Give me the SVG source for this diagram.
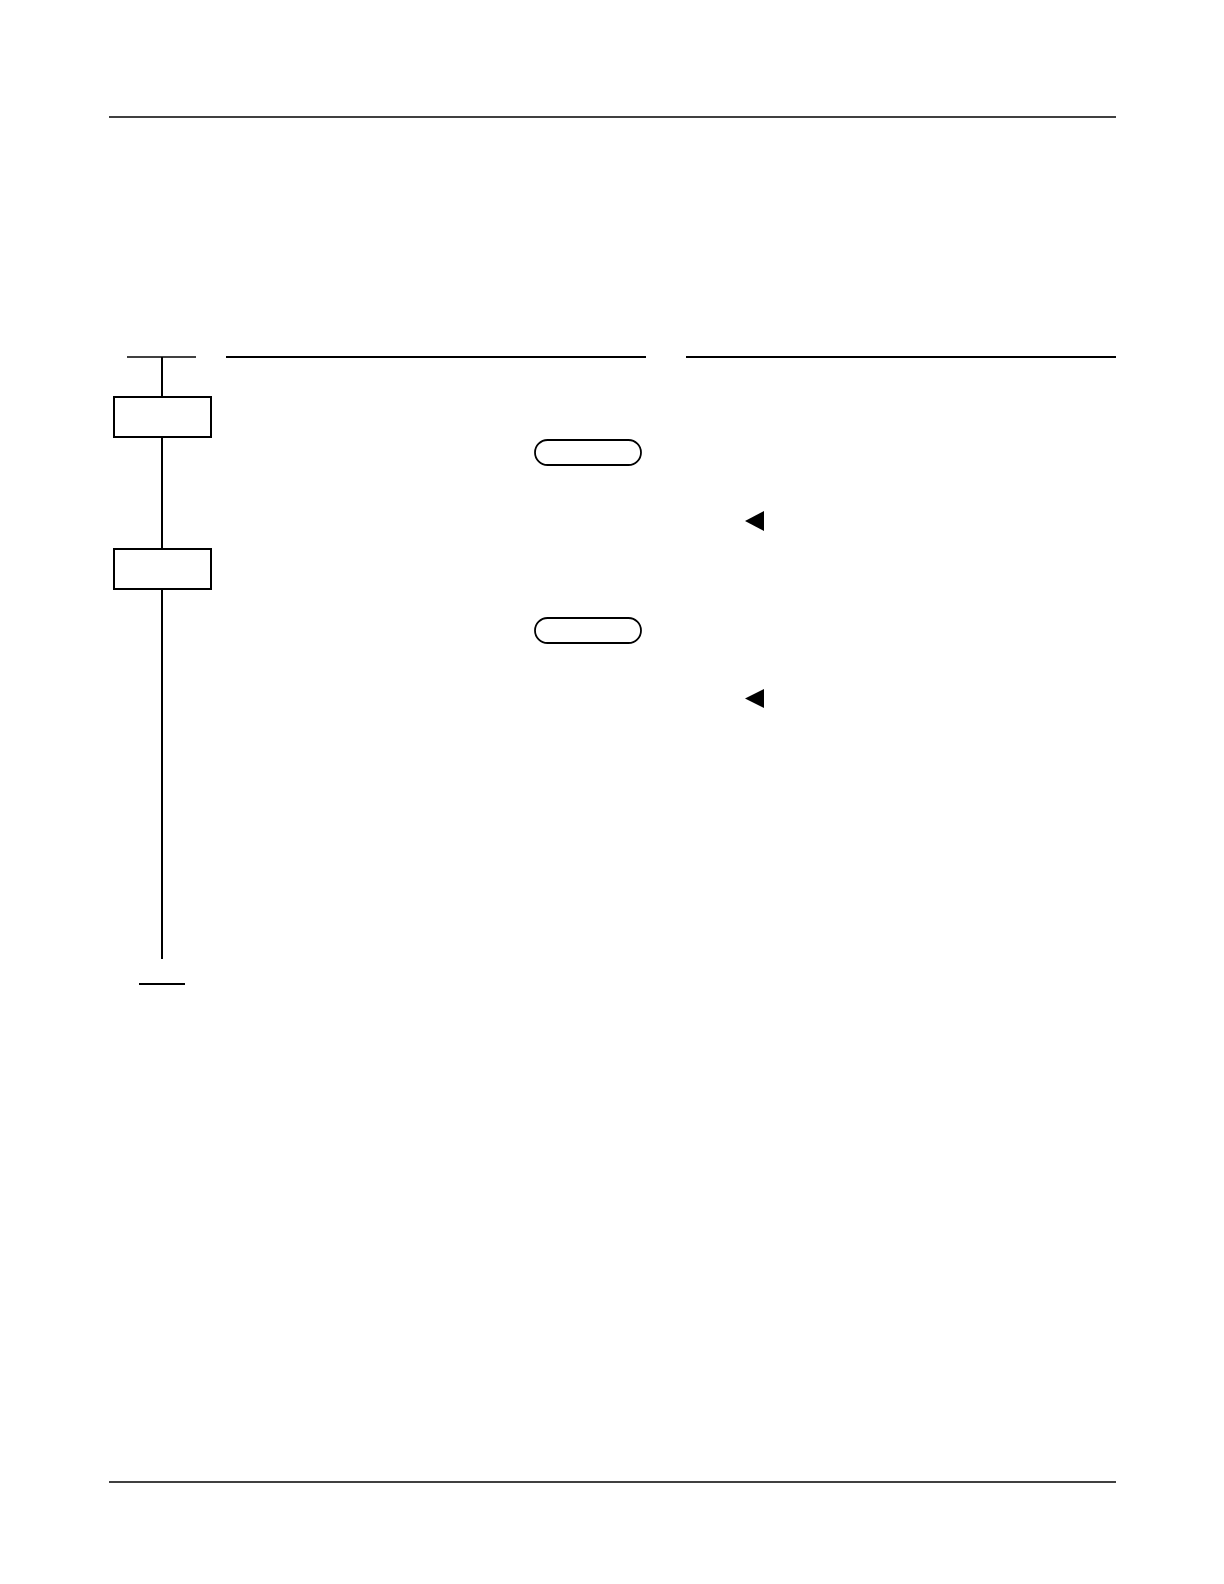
<svg xmlns="http://www.w3.org/2000/svg" width="1224" height="1584" viewBox="0 0 1224 1584">
<style>
.ln{stroke:#000;stroke-width:1.5;fill:none}
.hd{stroke:#000;stroke-width:2;fill:none}
.box{stroke:#000;stroke-width:2;fill:#fff}
.pill{stroke:#000;stroke-width:1.8;fill:#fff}
.tri{fill:#000}
</style>
<rect width="1224" height="1584" fill="#fff"/>
<g id="page-rules">
<line class="ln" x1="109" y1="117" x2="1116" y2="117"/>
<line class="ln" x1="109" y1="1482" x2="1116" y2="1482"/>
</g>
<g id="headers">
<line class="ln" x1="127" y1="357" x2="196" y2="357" stroke="#555"/>
<line class="hd" x1="226" y1="357" x2="646" y2="357"/>
<line class="hd" x1="686" y1="357" x2="1116" y2="357"/>
</g>
<g id="connectors">
<line class="hd" x1="162" y1="357" x2="162" y2="397"/>
<line class="hd" x1="162" y1="437" x2="162" y2="549"/>
<line class="hd" x1="162" y1="589" x2="162" y2="959"/>
<line class="hd" x1="139" y1="984" x2="185" y2="984"/>
</g>
<g id="step1"><rect class="box" x="114" y="397" width="97" height="40"/></g>
<g id="step2"><rect class="box" x="114" y="549" width="97" height="40"/></g>
<g id="pill1"><rect class="pill" x="535" y="440" width="106" height="25" rx="12.5"/></g>
<g id="pill2"><rect class="pill" x="535" y="618" width="106" height="25" rx="12.5"/></g>
<g id="marker1"><polygon class="tri" points="745,521 764,511 764,531"/></g>
<g id="marker2"><polygon class="tri" points="745,698.5 764,689 764,708"/></g>
</svg>
